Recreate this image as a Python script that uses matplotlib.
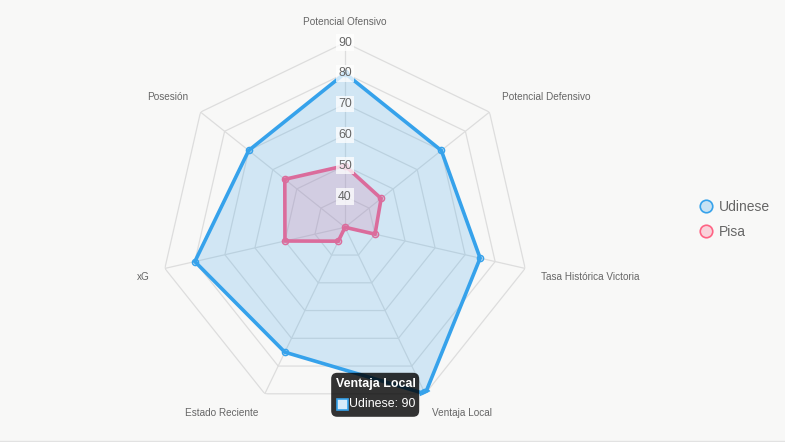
import numpy as np
import matplotlib
matplotlib.use("Agg")
import matplotlib.pyplot as plt
from matplotlib.lines import Line2D
from matplotlib.patches import FancyBboxPatch, Rectangle
from matplotlib.transforms import IdentityTransform

plt.rcParams['font.family'] = ['Liberation Sans', 'DejaVu Sans']

# Data
categories = ["Potencial Ofensivo", "Potencial Defensivo", "Tasa Histórica Victoria",
              "Ventaja Local", "Estado Reciente", "xG", "Posesión"]
udinese = [80, 70, 75, 90, 75, 80, 70]
pisa = [50, 45, 40, 30, 35, 50, 55]
ticks = [40, 50, 60, 70, 80, 90]
r_min, r_max = 30, 90

bg = "#f8f8f7"
blue = "#36a2eb"
pink = "#db6c9c"
grid_col = "#dddddd"
text_col = "#666666"

W, H = 785, 442
fig = plt.figure(figsize=(W / 100, H / 100), dpi=100, facecolor=bg)

# polar axes centred on the chart centre
cx, cy, R = 345, 227.3, 184.8
ax = fig.add_axes([(cx - R) / W, (H - cy - R) / H, 2 * R / W, 2 * R / H], projection="polar")
ax.set_theta_offset(np.pi / 2)
ax.set_theta_direction(-1)
ax.set_ylim(r_min, r_max)
ax.set_axis_off()

n = len(categories)
angles = np.linspace(0, 2 * np.pi, n, endpoint=False)
closed = np.append(angles, angles[0])

# polygon grid + spokes
for lv in ticks:
    ax.plot(closed, [lv] * (n + 1), color=grid_col, lw=0.9, zorder=1)
for a in angles:
    ax.plot([a, a], [r_min, r_max], color=grid_col, lw=0.9, zorder=1)

# datasets
for vals, col in [(udinese, blue), (pisa, pink)]:
    v = np.append(vals, vals[0])
    ax.fill(closed, v, color=col, alpha=0.2, lw=0, zorder=2)
    ax.plot(closed, v, color=col, lw=2.6, zorder=3, solid_joinstyle="miter")
    ax.plot(angles, vals, ls="none", marker="o", ms=4.5, mfc=matplotlib.colors.to_rgba(col, 0.25),
            mec=col, mew=1.0, zorder=4)

# tick labels on the top spoke
for lv in ticks:
    ax.text(0, lv, str(lv), ha="center", va="center", fontsize=8.9, color=text_col, zorder=5,
            bbox=dict(boxstyle="square,pad=0.18", fc=(1, 1, 1, 0.75), ec="none"))

# point labels
pad = 16
for a, lab in zip(angles, categories):
    s, c = np.sin(a), np.cos(a)
    ha = "center" if abs(s) < 0.05 else ("left" if s > 0 else "right")
    va = "bottom" if c > 0.05 else ("top" if c < -0.05 else "center")
    ax.annotate(lab, xy=(a, r_max), xytext=(s * pad, c * pad), textcoords="offset pixels",
                ha=ha, va=va, fontsize=7.2, color=text_col, annotation_clip=False)

# legend
handles = [Line2D([], [], ls="none", marker="o", ms=9, mfc=matplotlib.colors.to_rgba(c, 0.25),
                  mec=c, mew=1.2) for c in (blue, "#ff6384")]
fig.legend(handles, ["Udinese", "Pisa"], loc="center left", bbox_to_anchor=(699 / W, 1 - 219.5 / H),
           frameon=False, fontsize=10, labelcolor=text_col, handlelength=1.0, handletextpad=0.45,
           labelspacing=0.75, borderpad=0, borderaxespad=0)

# tooltip on Ventaja Local
px, py = ax.transData.transform((angles[3], udinese[3]))
ax.plot([angles[3]], [udinese[3]], ls="none", marker="o", ms=7, mfc=matplotlib.colors.to_rgba(blue, 0.25),
        mec=blue, mew=1.5, zorder=6)
tip = IdentityTransform()
fig.add_artist(FancyBboxPatch((px - 94, py - 23), 88, 44, boxstyle="round,pad=0,rounding_size=6",
                              transform=tip, fc=(0, 0, 0, 0.8), ec="none", zorder=10))
fig.text(px - 89, py + 10, "Ventaja Local", transform=tip, color="white", fontsize=8.9,
         fontweight="bold", va="center", ha="left", zorder=11)
fig.add_artist(Rectangle((px - 88, py - 16), 11, 11, transform=tip, fc="#d7ebfa", ec=blue, lw=1.2, zorder=11))
fig.text(px - 76, py - 10.5, "Udinese: 90", transform=tip, color="white", fontsize=8.9,
         va="center", ha="left", zorder=11)

# thin bottom border
fig.add_artist(Line2D([0, 1], [1.5 / H, 1.5 / H], transform=fig.transFigure, color="#e2e2e2", lw=1))

fig.savefig("out.png", dpi=100, facecolor=bg)
